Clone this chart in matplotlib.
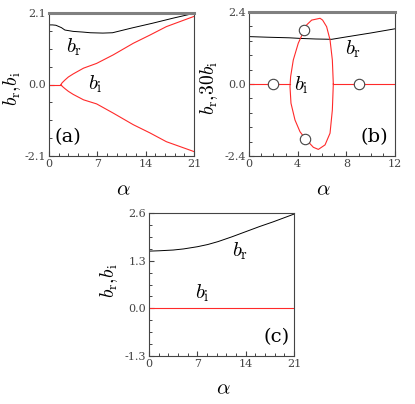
import numpy as np
import matplotlib
matplotlib.use('Agg')
import matplotlib.pyplot as plt
from matplotlib.ticker import MultipleLocator, AutoMinorLocator

plt.rcParams['font.family'] = 'DejaVu Serif'
plt.rcParams['mathtext.fontset'] = 'cm'

red = '#ff2a2a'
dark = '#444444'

# panel (a)
a_alpha_r = [0, 0.5, 1.0, 1.8, 2.3, 3.5, 4.9, 6.0, 7.8, 9.2, 12, 15, 18, 21]
a_br = [1.75, 1.75, 1.74, 1.67, 1.60, 1.56, 1.54, 1.52, 1.51, 1.52, 1.66, 1.80, 1.95, 2.09]
a_alpha_i = [1.74, 1.9, 2.3, 2.8, 3.5, 5.0, 6.9, 9.3, 12.2, 14.6, 17.0, 21.0]
a_bi_up = [0.0, 0.05, 0.13, 0.22, 0.31, 0.48, 0.62, 0.87, 1.21, 1.45, 1.70, 2.00]
a_bi_lo = [0.0, -0.05, -0.12, -0.20, -0.29, -0.45, -0.57, -0.84, -1.18, -1.42, -1.68, -1.97]

# panel (b)
b_alpha_r = [0, 1.5, 3.3, 4.2, 5.5, 6.8, 8.0, 10.0, 12.0]
b_br = [1.58, 1.56, 1.54, 1.52, 1.50, 1.49, 1.57, 1.70, 1.84]
b_loop_alpha = [6.93, 6.85, 6.66, 6.38, 6.05, 5.84, 5.15, 4.74, 4.52, 4.05, 3.64, 3.42,
                3.37, 3.45, 3.78, 4.19, 4.60, 5.29, 5.70, 6.25, 6.66, 6.85, 6.93]
b_loop_bi = [0.0, 0.8, 1.47, 1.91, 2.13, 2.19, 2.13, 1.97, 1.78, 1.36, 0.8, 0.24,
             -0.09, -0.64, -1.2, -1.59, -1.81, -2.11, -2.18, -2.03, -1.64, -0.87, 0.0]
b_zero_left = [0, 3.38]
b_zero_right = [6.93, 12]
b_circ_alpha = [2.0, 4.55, 4.6, 9.0]
b_circ_bi = [0.0, 1.8, -1.82, 0.0]

# panel (c)
c_alpha = [0, 1.5, 3.5, 5.0, 7.0, 8.5, 10.0, 12.0, 14.0, 16.0, 18.0, 21.0]
c_br = [1.56, 1.57, 1.59, 1.62, 1.68, 1.74, 1.82, 1.95, 2.09, 2.23, 2.36, 2.57]
c_bi = [0.0] * len(c_alpha)

W, H = 415, 404
fig = plt.figure(figsize=(W / 100, H / 100), dpi=100)


def make_ax(l, r, t, b):
    return fig.add_axes([l / W, (H - b) / H, (r - l) / W, (b - t) / H])


def style(ax, xlim, ylim, xmaj, xmin_n, ymin_n, thick_top=True):
    ax.set_xlim(xlim)
    ax.set_ylim(ylim)
    ax.set_xticks(xmaj)
    ax.set_yticks([ylim[0], 0.0, ylim[1]])
    ax.set_yticklabels(['%.1f' % ylim[0], '0.0', '%.1f' % ylim[1]])
    ax.xaxis.set_minor_locator(AutoMinorLocator(xmin_n))
    ax.yaxis.set_minor_locator(AutoMinorLocator(ymin_n))
    ax.tick_params(which='both', direction='in', top=False, right=False,
                   labelsize=8, colors=dark, pad=2)
    ax.tick_params(which='major', length=3.5, width=0.8)
    ax.tick_params(which='minor', length=2, width=0.7)
    for s in ['left', 'bottom', 'right']:
        ax.spines[s].set_color(dark)
        ax.spines[s].set_linewidth(0.8)
    if thick_top:
        ax.spines['top'].set_color('#808080')
        ax.spines['top'].set_linewidth(2.2)
    else:
        ax.spines['top'].set_color(dark)
        ax.spines['top'].set_linewidth(0.8)


# (a)
ax1 = make_ax(49, 194, 13, 156)
ax1.plot(a_alpha_r, a_br, color='k', lw=0.7)
ax1.plot([0, a_alpha_i[0]], [0, 0], color=red, lw=0.8)
ax1.plot(a_alpha_i, a_bi_up, color=red, lw=0.8)
ax1.plot(a_alpha_i, a_bi_lo, color=red, lw=0.8)
style(ax1, (0, 21), (-2.1, 2.1), [0, 7, 14, 21], 5, 4)
ax1.set_ylabel(r'$b_{\rm r},\!b_{\rm i}$', fontsize=14)
ax1.yaxis.set_label_coords(-0.18, 0.47)
ax1.set_xlabel(r'$\alpha$', fontsize=15)
ax1.xaxis.set_label_coords(0.51, -0.17)
ax1.text(0.17, 0.76, r'$b_{\rm r}$', transform=ax1.transAxes, fontsize=15, ha='center', va='center')
ax1.text(0.32, 0.50, r'$b_{\rm i}$', transform=ax1.transAxes, fontsize=15, ha='center', va='center')
ax1.text(0.13, 0.13, '(a)', transform=ax1.transAxes, fontsize=14, ha='center', va='center')

# (b)
ax2 = make_ax(249, 395, 12, 156)
ax2.plot(b_alpha_r, b_br, color='k', lw=0.7)
ax2.plot(b_loop_alpha, b_loop_bi, color=red, lw=0.8)
ax2.plot(b_zero_left, [0, 0], color=red, lw=0.8)
ax2.plot(b_zero_right, [0, 0], color=red, lw=0.8)
ax2.plot(b_circ_alpha, b_circ_bi, 'o', ms=7.5, mfc='white', mec=dark, mew=0.8, zorder=5)
style(ax2, (0, 12), (-2.4, 2.4), [0, 4, 8, 12], 4, 5)
ax2.set_ylabel(r'$b_{\rm r},\!30b_{\rm i}$', fontsize=14)
ax2.yaxis.set_label_coords(-0.2, 0.47)
ax2.set_xlabel(r'$\alpha$', fontsize=15)
ax2.xaxis.set_label_coords(0.51, -0.17)
ax2.text(0.71, 0.74, r'$b_{\rm r}$', transform=ax2.transAxes, fontsize=15, ha='center', va='center')
ax2.text(0.36, 0.49, r'$b_{\rm i}$', transform=ax2.transAxes, fontsize=15, ha='center', va='center')
ax2.text(0.86, 0.13, '(b)', transform=ax2.transAxes, fontsize=14, ha='center', va='center')

# (c)
ax3 = make_ax(149, 294, 213, 356)
ax3.plot(c_alpha, c_br, color='k', lw=0.7)
ax3.plot(c_alpha, c_bi, color=red, lw=0.8)
style(ax3, (0, 21), (-1.3, 2.6), [0, 7, 14, 21], 5, 4, thick_top=False)
ax3.set_yticks([-1.3, 0.0, 1.3, 2.6])
ax3.set_yticklabels(['-1.3', '0.0', '1.3', '2.6'])
ax3.set_ylabel(r'$b_{\rm r},\!b_{\rm i}$', fontsize=14)
ax3.yaxis.set_label_coords(-0.2, 0.53)
ax3.set_xlabel(r'$\alpha$', fontsize=15)
ax3.xaxis.set_label_coords(0.51, -0.16)
ax3.text(0.63, 0.73, r'$b_{\rm r}$', transform=ax3.transAxes, fontsize=15, ha='center', va='center')
ax3.text(0.37, 0.44, r'$b_{\rm i}$', transform=ax3.transAxes, fontsize=15, ha='center', va='center')
ax3.text(0.88, 0.13, '(c)', transform=ax3.transAxes, fontsize=14, ha='center', va='center')

fig.savefig('out.png', dpi=100)
